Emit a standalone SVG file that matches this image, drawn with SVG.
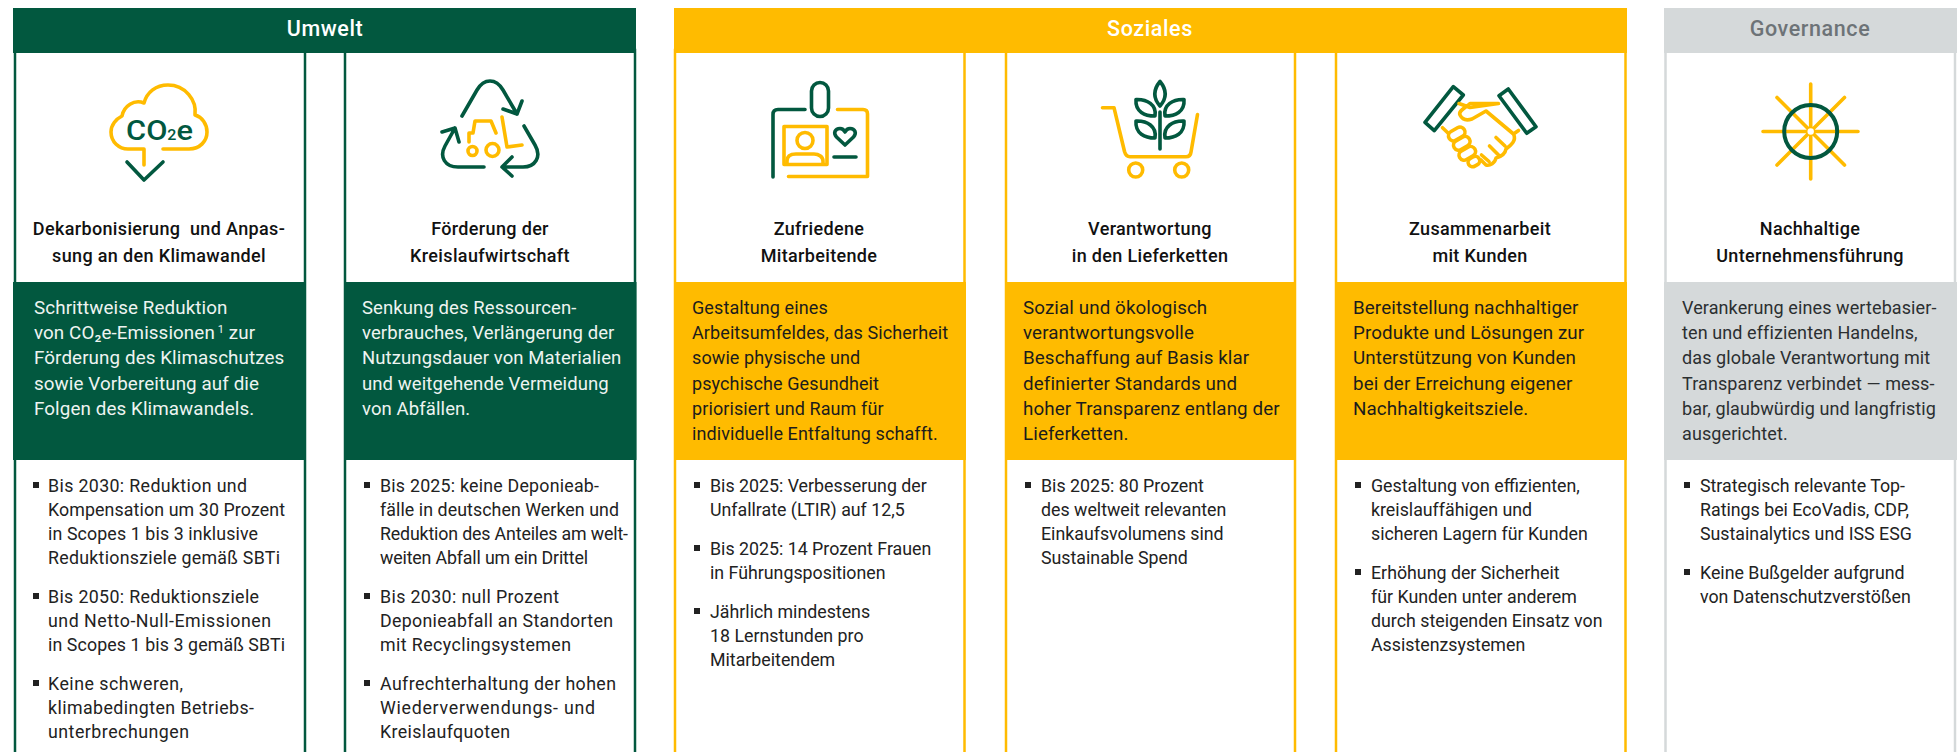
<svg xmlns="http://www.w3.org/2000/svg" width="1957" height="752" viewBox="0 0 1957 752">
<style>
text{font-family:Roboto,"Liberation Sans",sans-serif}
.h{font-size:21.500px;font-weight:500;text-anchor:middle;letter-spacing:.6px}
.t{font-size:18px;font-weight:500;text-anchor:middle;fill:#111;letter-spacing:.35px}
.b{font-size:18px;letter-spacing:.1px}
.b2{font-size:18.500px;letter-spacing:.1px}
.b3{font-size:18.800px;letter-spacing:.1px}
.l{font-size:17.800px;fill:#222}
.w{fill:#eef4f1}.k{fill:#1c1c1c}.g{fill:#2b2f31}
.sg,.sy{fill:none;stroke-width:3.6;stroke-linecap:round;stroke-linejoin:round}
.sg{stroke:#02583f}.sy{stroke:#ffbb00}
.cg{fill:#fff;stroke:#02583f;stroke-width:2.5}
.cy{fill:#fff;stroke:#ffbb00;stroke-width:2.5}
.cr{fill:#fff;stroke:#d5d9da;stroke-width:2.5}
.fg{fill:#02583f}.fy{fill:#ffbb00}.fr{fill:#d5d9da}
</style>
<defs><rect id="q" width="6" height="6" fill="#222"/></defs>
<rect width="1957" height="752" fill="#fff"/>

<g id="col-dekarbonisierung">
<rect class="cg" x="15" y="50" width="290" height="710"/><rect class="fg" x="13" y="282" width="293" height="178"/>
<path class="sy" d="M163 149H189C200 149 207 141 207 132C207 124 202 117 195 115C197 100 185 85 168 85C156 85 147 92 144 103C134 99 124 106 122 116C116 119 111 125 111 132C111 142 119 149 128 149H144V165"/><path class="sg" d="M127 162L144 180L163 162"/>
<text x="126" y="140" font-size="27" font-weight="500" fill="#02583f" textLength="67" lengthAdjust="spacingAndGlyphs">CO<tspan font-size="14">2</tspan>e</text>
<text class="t"><tspan x="159" y="235">Dekarbonisierung&#160; und Anpas-</tspan><tspan x="159" y="262">sung an den Klimawandel</tspan></text>
<text class="b3 w"><tspan x="34" y="314">Schrittweise Reduktion</tspan><tspan x="34" dy="25.2">von CO₂e-Emissionen<tspan font-size="11" dy="-6"> 1</tspan><tspan dy="6"> zur</tspan></tspan><tspan x="34" dy="25.2">Förderung des Klimaschutzes</tspan><tspan x="34" dy="25.2">sowie Vorbereitung auf die</tspan><tspan x="34" dy="25.2">Folgen des Klimawandels.</tspan></text>
<use href="#q" x="33" y="482"/><use href="#q" x="33" y="593"/><use href="#q" x="33" y="680"/>
<g class="l">
<text class="l" x="48" y="492" textLength="199">Bis 2030: Reduktion und</text>
<text class="l" x="48" y="516" textLength="237">Kompensation um 30 Prozent</text>
<text class="l" x="48" y="540" textLength="210">in Scopes 1 bis 3 inklusive</text>
<text class="l" x="48" y="564" textLength="232">Reduktionsziele gemäß SBTi</text>
<text class="l" x="48" y="603" textLength="211">Bis 2050: Reduktionsziele</text>
<text class="l" x="48" y="627" textLength="223">und Netto-Null-Emissionen</text>
<text class="l" x="48" y="651" textLength="237">in Scopes 1 bis 3 gemäß SBTi</text>
<text class="l" x="48" y="690" textLength="135">Keine schweren,</text>
<text class="l" x="48" y="714" textLength="206">klimabedingten Betriebs-</text>
<text class="l" x="48" y="738" textLength="141">unterbrechungen</text>
</g>
</g>

<g id="col-kreislauf">
<rect class="cg" x="345" y="50" width="290" height="710"/><rect class="fg" x="344" y="282" width="292.500" height="178"/>
<path class="sg" d="M462 116L477 90C484 78 496 78 503 90L517 114M522 101L517 114L503 109M524 126L535 145C542 157 535 167 523 167H502M512 157L502 167L512 176M484 167H458C445 167 439 157 445 146L455 128M442 132L455 128L459 142"/>
<path class="sy" d="M469 142V133H473L475 121H491L496 133M502 117L507 147L522 145"/><circle class="sy" cx="472.500" cy="151" r="4.500"/><circle class="sy" cx="492.500" cy="150" r="6.500"/>
<text class="t"><tspan x="490" y="235">Förderung der</tspan><tspan x="490" y="262">Kreislaufwirtschaft</tspan></text>
<text class="b2 w"><tspan x="362" y="314">Senkung des Ressourcen-</tspan><tspan x="362" dy="25.2">verbrauches, Verlängerung der</tspan><tspan x="362" dy="25.2">Nutzungsdauer von Materialien</tspan><tspan x="362" dy="25.2">und weitgehende Vermeidung</tspan><tspan x="362" dy="25.2">von Abfällen.</tspan></text>
<use href="#q" x="364" y="482"/><use href="#q" x="364" y="593"/><use href="#q" x="364" y="680"/>
<g>
<text class="l" x="380" y="492" textLength="219">Bis 2025: keine Deponieab-</text>
<text class="l" x="380" y="516" textLength="239">fälle in deutschen Werken und</text>
<text class="l" x="380" y="540" textLength="248">Reduktion des Anteiles am welt-</text>
<text class="l" x="380" y="564" textLength="208">weiten Abfall um ein Drittel</text>
<text class="l" x="380" y="603" textLength="179">Bis 2030: null Prozent</text>
<text class="l" x="380" y="627" textLength="233">Deponieabfall an Standorten</text>
<text class="l" x="380" y="651" textLength="191">mit Recyclingsystemen</text>
<text class="l" x="380" y="690" textLength="236">Aufrechterhaltung der hohen</text>
<text class="l" x="380" y="714" textLength="215">Wiederverwendungs- und</text>
<text class="l" x="380" y="738" textLength="130">Kreislaufquoten</text>
</g>
</g>

<g id="col-mitarbeitende">
<rect class="cy" x="675" y="50" width="289.500" height="710"/><rect class="fy" x="674" y="282" width="292" height="178"/>
<rect class="sg" x="811.500" y="82.500" width="17" height="34" rx="8.500"/><path class="sg" d="M805 109.500H778Q773 109.500 773 114.500V177"/><path class="sy" d="M837.500 109.500H863Q867.500 109.500 867.500 114V176.500H788.500"/>
<rect class="sy" x="784" y="126.500" width="43" height="38" stroke-width="4"/><circle class="sy" cx="805" cy="140.500" r="8"/><path class="sy" d="M787 164V161C787 156 791 154 796 154H814C819 154 823 157 823 161V164"/>
<path class="sg" d="M845 145L836.500 137C833 133 835 128.500 840 128.500C842.500 128.500 844 130 845 132C846 130 847.500 128.500 850 128.500C855 128.500 857 133 853.500 137ZM834 157H856"/>
<text class="t"><tspan x="819" y="235">Zufriedene</tspan><tspan x="819" y="262">Mitarbeitende</tspan></text>
<text class="b k"><tspan x="692" y="314">Gestaltung eines</tspan><tspan x="692" dy="25.2">Arbeitsumfeldes, das Sicherheit</tspan><tspan x="692" dy="25.2">sowie physische und</tspan><tspan x="692" dy="25.2">psychische Gesundheit</tspan><tspan x="692" dy="25.2">priorisiert und Raum für</tspan><tspan x="692" dy="25.2">individuelle Entfaltung schafft.</tspan></text>
<use href="#q" x="694" y="482"/><use href="#q" x="694" y="545"/><use href="#q" x="694" y="608"/>
<text class="l"><tspan x="710" y="492">Bis 2025: Verbesserung der</tspan><tspan x="710" y="516">Unfallrate (LTIR) auf 12,5</tspan><tspan x="710" y="555">Bis 2025: 14 Prozent Frauen</tspan><tspan x="710" y="579">in Führungspositionen</tspan><tspan x="710" y="618">Jährlich mindestens</tspan><tspan x="710" y="642">18 Lernstunden pro</tspan><tspan x="710" y="666">Mitarbeitendem</tspan></text>
</g>

<g id="col-lieferketten">
<rect class="cy" x="1006" y="50" width="289" height="710"/><rect class="fy" x="1005" y="282" width="291" height="178"/>
<path class="sy" d="M1102.500 107.700H1114L1124.500 151.500Q1126 156.700 1130 156.700H1186Q1190.500 156.700 1191 152L1197.500 114.500"/><circle class="sy" cx="1135.700" cy="170" r="7"/><circle class="sy" cx="1181.700" cy="170" r="7"/>
<path class="sg" d="M1160 112V149M1160 81.500C1153 90 1153 98 1160 106C1167 98 1167 90 1160 81.500ZM1136 99.500C1147 99 1157 105 1155 116C1145 116 1135 112 1136 99.500ZM1184 99.500C1173 99 1163 105 1165 116C1175 116 1185 112 1184 99.500ZM1136 121C1147 120.500 1157 126.500 1155 138C1145 138 1135 133.500 1136 121ZM1184 121C1173 120.500 1163 126.500 1165 138C1175 138 1185 133.500 1184 121Z"/>
<text class="t"><tspan x="1150" y="235">Verantwortung</tspan><tspan x="1150" y="262">in den Lieferketten</tspan></text>
<text class="b3 k"><tspan x="1023" y="314">Sozial und ökologisch</tspan><tspan x="1023" dy="25.2">verantwortungsvolle</tspan><tspan x="1023" dy="25.2">Beschaffung auf Basis klar</tspan><tspan x="1023" dy="25.2">definierter Standards und</tspan><tspan x="1023" dy="25.2">hoher Transparenz entlang der</tspan><tspan x="1023" dy="25.2">Lieferketten.</tspan></text>
<use href="#q" x="1025" y="482"/>
<text class="l"><tspan x="1041" y="492">Bis 2025: 80 Prozent</tspan><tspan x="1041" y="516">des weltweit relevanten</tspan><tspan x="1041" y="540">Einkaufsvolumens sind</tspan><tspan x="1041" y="564">Sustainable Spend</tspan></text>
</g>

<g id="col-kunden">
<rect class="cy" x="1336" y="50" width="289.500" height="710"/><rect class="fy" x="1335" y="282" width="292" height="178"/>
<path class="sg" d="M1453.300 86.700L1463.300 95L1434.300 130.700L1425 122.300ZM1508.300 89L1499 95.700L1526.700 133.300L1536 126.700Z"/>
<path class="sy" d="M1459 103.500L1470 107.500L1498.500 103.500H1470C1465 108 1458 111 1460 115C1462 119 1466 121 1472 119L1486 111L1513.500 134L1518.500 130.500M1513.500 134C1517 141 1510 146 1506 149C1505 155 1500 157 1496 158C1495 163 1490 166 1486 165L1481 160M1496 137.500L1505 146M1489.500 146L1498.500 155M1481.500 155L1489 161.500M1442.500 127.700L1448 133"/>
<g class="sy"><rect x="1448" y="129" width="17.500" height="10" rx="5" transform="rotate(-30 1456.700 134)"/><rect x="1453" y="138.300" width="17.500" height="10" rx="5" transform="rotate(-30 1461.700 143.300)"/><rect x="1458.500" y="148.300" width="17.500" height="10" rx="5" transform="rotate(-30 1467.300 153.300)"/><rect x="1468" y="157" width="12" height="9" rx="4.500" transform="rotate(-30 1474 161.700)"/></g>
<text class="t"><tspan x="1480" y="235">Zusammenarbeit</tspan><tspan x="1480" y="262">mit Kunden</tspan></text>
<text class="b3 k"><tspan x="1353" y="314">Bereitstellung nachhaltiger</tspan><tspan x="1353" dy="25.2">Produkte und Lösungen zur</tspan><tspan x="1353" dy="25.2">Unterstützung von Kunden</tspan><tspan x="1353" dy="25.2">bei der Erreichung eigener</tspan><tspan x="1353" dy="25.2">Nachhaltigkeitsziele.</tspan></text>
<use href="#q" x="1355" y="482"/><use href="#q" x="1355" y="569"/>
<text class="l"><tspan x="1371" y="492">Gestaltung von effizienten,</tspan><tspan x="1371" y="516">kreislauffähigen und</tspan><tspan x="1371" y="540">sicheren Lagern für Kunden</tspan><tspan x="1371" y="579">Erhöhung der Sicherheit</tspan><tspan x="1371" y="603">für Kunden unter anderem</tspan><tspan x="1371" y="627">durch steigenden Einsatz von</tspan><tspan x="1371" y="651">Assistenzsystemen</tspan></text>
</g>

<g id="col-governance">
<rect class="cr" x="1665.500" y="50" width="289.500" height="710"/><rect class="fr" x="1664" y="282" width="293" height="178"/>
<path class="sy" d="M1763 131.500H1858M1810.700 84V179M1777 97.500L1844.500 165M1844.500 97.500L1777 165"/><circle cx="1810.700" cy="131.500" r="3.200" fill="#fff"/><circle cx="1810.700" cy="131.500" r="26.500" fill="none" stroke="#02583f" stroke-width="4"/>
<text class="t"><tspan x="1810" y="235">Nachhaltige</tspan><tspan x="1810" y="262">Unternehmensführung</tspan></text>
<text class="b g"><tspan x="1682" y="314">Verankerung eines wertebasier-</tspan><tspan x="1682" dy="25.2">ten und effizienten Handelns,</tspan><tspan x="1682" dy="25.2">das globale Verantwortung mit</tspan><tspan x="1682" dy="25.2">Transparenz verbindet — mess-</tspan><tspan x="1682" dy="25.2">bar, glaubwürdig und langfristig</tspan><tspan x="1682" dy="25.2">ausgerichtet.</tspan></text>
<use href="#q" x="1684" y="482"/><use href="#q" x="1684" y="569"/>
<text class="l"><tspan x="1700" y="492">Strategisch relevante Top-</tspan><tspan x="1700" y="516">Ratings bei EcoVadis, CDP,</tspan><tspan x="1700" y="540">Sustainalytics und ISS ESG</tspan><tspan x="1700" y="579">Keine Bußgelder aufgrund</tspan><tspan x="1700" y="603">von Datenschutzverstößen</tspan></text>
</g>

<g id="umwelt-header"><rect class="fg" x="13" y="8" width="623" height="45"/><text class="h" x="325" y="36" fill="#fff">Umwelt</text></g>
<g id="soziales-header"><rect class="fy" x="674" y="8" width="953" height="45"/><text class="h" x="1150" y="36" fill="#fff">Soziales</text></g>
<g id="governance-header"><rect class="fr" x="1664" y="8" width="293" height="45"/><text class="h" x="1810" y="36" fill="#6d7377">Governance</text></g>
</svg>
